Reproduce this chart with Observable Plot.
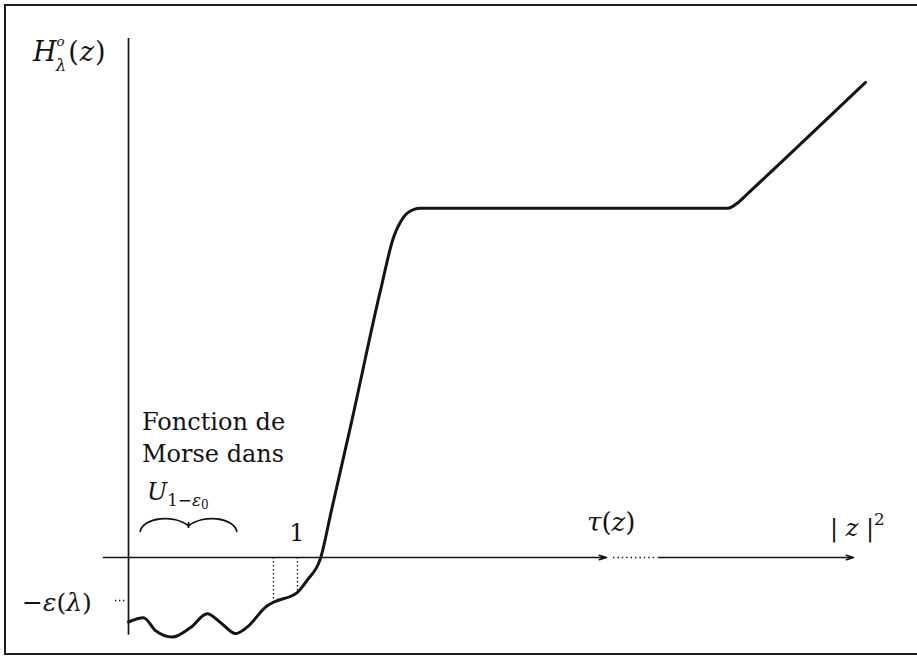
<!DOCTYPE html>
<html>
<head>
<meta charset="utf-8">
<script src="https://cdn.jsdelivr.net/npm/d3@7"></script>
<script src="https://cdn.jsdelivr.net/npm/@observablehq/plot@0.6"></script>
<style>
  html, body { margin: 0; padding: 0; background: #fff; overflow: hidden; }
  #fig { position: relative; width: 917px; height: 657px; }
  #fig svg { display: block; }
  #frame {
    position: absolute; left: 4px; top: 4px; width: 940px; height: 651px;
    border: 2px solid #1c1c1c; border-right: none; box-sizing: border-box;
    pointer-events: none;
  }
</style>
</head>
<body>
<div id="fig"><div id="frame"></div></div>
<script>
// H_λ^o as a function of |z|²: Morse wiggles below -ε(λ), steep rise past 1,
// a long plateau, then linear growth.
const curveX = [0, 0.089, 0.160, 0.259, 0.367, 0.466, 0.544, 0.633, 0.702, 0.821,
                0.858, 1.0, 1.057, 1.136, 1.20, 1.314, 1.491, 1.568, 1.627, 1.686, 1.728,
                3.544, 3.609, 3.65, 4.361];
const curveY = [-1.50, -1.40, -1.70, -1.85, -1.63, -1.31, -1.51, -1.77, -1.62, -1.12,
                -1.04, -0.81, -0.53, -0.02, 1.08, 3.05, 6.21, 7.44, 7.91, 8.09, 8.12,
                8.12, 8.26, 8.41, 11.05];
const curve = curveX.map((x, i) => ({x, y: curveY[i]}));

const eps = 1;                    // ε(λ)
const dropX = [0.858, 1];         // dotted verticals down to the curve
const axisX = [-0.148, 2.828];    // first solid stretch of the horizontal axis
const axisDots = [2.87, 3.13];    // dotted stretch
const axisX2 = [3.136, 4.29];     // last solid stretch, ending in the arrow
const axisY = [-1.81, 12.07];     // vertical axis extent
const morseSpan = [0.071, 0.645]; // brace over the Morse region
const braceY = 0.907;

const ink = "#141414";
const serif = "DejaVu Serif";

// Text with italic / raised / lowered pieces, placed through the scales.
function label(x, y, parts, {anchor = "start", size = 24} = {}) {
  return (index, {x: sx, y: sy}) => {
    const t = d3.create("svg:text")
      .attr("x", sx(x)).attr("y", sy(y))
      .attr("text-anchor", anchor)
      .attr("font-family", serif)
      .attr("font-size", size)
      .attr("fill", ink);
    let cur = 0;
    for (const [str, o = {}] of parts) {
      const b = o.b || 0;
      const ts = t.append("tspan").text(str)
        .attr("dy", (cur - b) * size)
        .attr("font-size", size * (o.s || 1));
      if (o.it) ts.attr("font-style", "italic");
      if (o.dx) ts.attr("dx", o.dx);
      cur = b;
    }
    return t.node();
  };
}

// Curly brace drawn between two x positions.
function brace([a, b], y) {
  return (index, {x: sx, y: sy}) => {
    const X0 = sx(a), X1 = sx(b), Y = sy(y), Xm = (X0 + X1) / 2;
    return d3.create("svg:path")
      .attr("fill", "none").attr("stroke", ink).attr("stroke-width", 1.7)
      .attr("d", `M${X0},${Y + 14} C${X0 + 3},${Y - 1} ${Xm - 14},${Y - 4} ${Xm},${Y + 8}
                  M${Xm},${Y + 4} L${Xm},${Y + 10}
                  M${Xm},${Y + 8} C${Xm + 14},${Y - 4} ${X1 - 3},${Y - 1} ${X1},${Y + 14}`)
      .node();
  };
}

const drops = dropX.map(x => curve.find(d => d.x === x));

const chart = Plot.plot({
  width: 917,
  height: 657,
  margin: 0,
  x: {domain: [0, 1], range: [128, 297], axis: null},
  y: {domain: [0, -eps], range: [557, 600], axis: null},
  marks: [
    // axes
    Plot.ruleX([0], {y1: axisY[0], y2: axisY[1], stroke: ink, strokeWidth: 1.7}),
    Plot.arrow([axisX, axisX2], {
      x1: d => d[0], x2: d => d[1], y1: 0, y2: 0,
      stroke: ink, strokeWidth: 1.6, headLength: 7, headAngle: 34
    }),
    Plot.ruleY([0], {x1: axisDots[0], x2: axisDots[1], stroke: ink, strokeWidth: 1.4, strokeDasharray: "1.4,3"}),
    // dotted guides
    Plot.ruleX(drops, {x: "x", y1: 0, y2: "y", stroke: ink, strokeWidth: 1.4, strokeDasharray: "1.4,2.6"}),
    Plot.ruleY([-eps], {x1: -0.077, x2: -0.018, stroke: ink, strokeWidth: 1.4, strokeDasharray: "1.4,2.6"}),
    // the function
    Plot.line(curve, {x: "x", y: "y", curve: "monotone-x", stroke: ink, strokeWidth: 3, strokeLinejoin: "round", strokeLinecap: "round"}),
    brace(morseSpan, braceY),
    // labels
    label(-0.562, 11.53, [["H", {it: true}], ["o", {it: true, s: 0.5, b: 0.55}], ["λ", {it: true, s: 0.62, b: -0.36, dx: -9}], ["(", {dx: 2}], ["z", {it: true, dx: 1}], [")", {dx: 1}]], {size: 27}),
    label(0.083, 2.95, [["Fonction de"]]),
    label(0.083, 2.21, [["Morse dans"]]),
    label(0.112, 1.33, [["U", {it: true}], ["1−", {s: 0.7, b: -0.25}], ["ε", {it: true, s: 0.7, b: -0.25}], ["0", {s: 0.5, b: -0.4}]]),
    label(dropX[1], 0.37, [["1"]], {anchor: "middle"}),
    label(-0.627, -1.256, [["−"], ["ε", {it: true}], ["("], ["λ", {it: true}], [")"]], {size: 25}),
    label(2.716, 0.605, [["τ", {it: true}], ["("], ["z", {it: true}], [")"]], {size: 26}),
    label(4.154, 0.49, [["| "], ["z", {it: true}], [" |"], ["2", {s: 0.7, b: 0.45}]])
  ]
});

document.getElementById("fig").prepend(chart);
</script>
</body>
</html>
